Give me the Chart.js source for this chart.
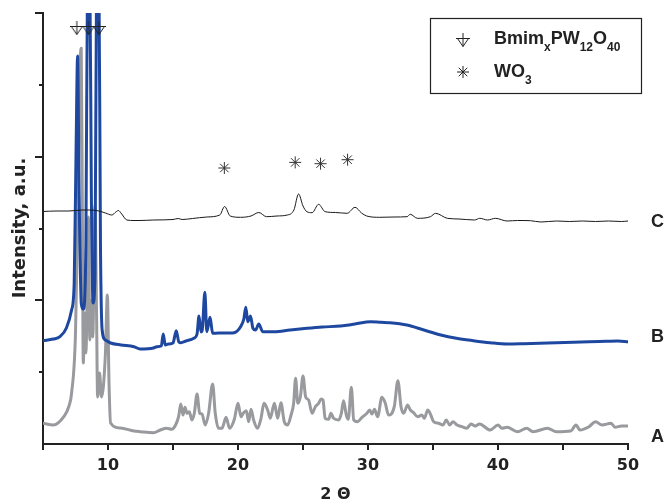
<!DOCTYPE html>
<html>
<head>
<meta charset="utf-8">
<script src="https://cdn.jsdelivr.net/npm/chart.js@4.4.1/dist/chart.umd.min.js"></script>
<style>
html, body { margin: 0; padding: 0; background: #fff; }
</style>
</head>
<body>
<canvas id="charts" width="666" height="504"></canvas>
<script>
// 2 theta positions and intensities (a.u.)

// C - thin black trace
const thetaC = [5.0, 6.0, 7.0, 8.0, 8.6, 9.3, 9.8, 10.3, 10.6, 10.8, 11.0, 11.45, 12.0, 12.46, 13.5, 15.0, 15.4, 15.7, 16.5, 17.6,
  18.6, 18.97, 19.4, 20.2, 21.0, 21.6, 22.2, 23.0, 23.8, 24.3, 24.66, 25.0, 25.3, 25.7, 26.2, 26.7, 27.5, 28.4, 29.0, 29.5,
  29.9, 30.9, 32.0, 33.0, 33.25, 33.8, 34.8, 35.2, 36.1, 37.0, 38.2, 38.6, 39.2, 39.8, 40.7, 41.5, 42.5, 43.3, 44.5, 45.5,
  46.5, 47.5, 48.5, 49.5, 50.0];
const intC = [232.5, 233, 233, 234, 234, 233, 231, 229, 232, 233.5, 231, 224, 223.5, 223.5, 224, 224.5, 225.5, 224.5, 225.5, 227,
  229, 237.5, 228, 226.7, 228, 231.5, 227.3, 228, 229, 234, 250, 238, 232.3, 231.3, 239.7, 232.3, 231.5, 230.7, 236.7, 231,
  228, 226.7, 227, 227.3, 229.7, 225.7, 227.3, 230.7, 225.7, 225, 224, 225.7, 224, 225.7, 223, 223.5, 223.3, 222, 223, 222.5,
  223, 222.5, 223, 222.5, 223];

// B - blue trace
const thetaB = [5.0, 5.8, 6.3, 6.8, 7.2, 7.4, 7.55, 7.66, 7.78, 7.95, 8.1, 8.3, 8.42, 8.6, 8.72, 8.85, 9.0, 9.12, 9.3, 9.42,
  9.55, 9.8, 10.2, 11.0, 12.0, 12.46, 13.5, 13.75, 14.1, 14.25, 14.4, 14.65, 15.0, 15.25, 15.45, 15.6, 16.0, 16.6, 16.85, 17.0,
  17.15, 17.25, 17.45, 17.6, 17.85, 18.05, 18.5, 19.4, 19.7, 20.2, 20.45, 20.6, 20.75, 20.96, 21.15, 21.35, 21.6, 21.9, 22.8, 24.0,
  25.3, 26.5, 27.9, 29.0, 30.2, 31.0, 31.7, 33.0, 34.3, 35.6, 36.8, 38.1, 39.4, 40.7, 42.0, 43.2, 44.5, 45.8, 47.0, 48.3,
  49.2, 50.0];
const intB = [103.3, 105, 107.3, 116, 134, 161, 300, 388, 250, 140, 135, 200, 460, 470, 250, 141, 170, 460, 470, 200,
  114, 104, 101, 99, 97.3, 95, 96, 97.3, 98, 110, 99, 100, 101, 113.3, 102, 101.3, 103, 105.7, 110, 128,
  112, 114, 151.7, 112.3, 126.7, 110.7, 111, 111, 111.3, 117.3, 125, 136.7, 122.3, 128, 115.7, 114, 120, 112.3, 112.3, 114,
  115.7, 117, 118, 120, 122.3, 121.7, 121.3, 119, 114, 109, 105.7, 103.3, 101.3, 100, 100.3, 100.7, 101.3, 101.7, 102.3, 102.7,
  103, 102.3];

// A - grey trace
const thetaA = [5.0, 5.8, 6.6, 7.0, 7.2, 7.5, 7.7, 7.86, 7.94, 8.02, 8.1, 8.2, 8.3, 8.5, 8.6, 8.75, 8.83, 9.0, 9.12, 9.2,
  9.35, 9.5, 9.8, 9.95, 10.08, 10.2, 10.95, 12.0, 12.5, 13.5,
  14.02, 14.5, 14.9, 15.2, 15.43, 15.6, 15.77, 15.92, 16.08, 16.25, 16.46, 16.64, 16.85, 17.05, 17.23, 17.48, 17.74, 18.05, 18.25, 18.5,
  18.77, 19.08, 19.35, 19.72, 20.0, 20.23, 20.43, 20.64, 20.82, 21.0, 21.2, 21.5, 21.77, 22.0, 22.28, 22.48, 22.8, 23.05, 23.3, 23.56,
  23.82, 24.08, 24.28, 24.43, 24.6, 24.8, 25.0, 25.2, 25.43, 25.7, 25.95, 26.2, 26.4, 26.54, 26.7, 26.97, 27.15, 27.35, 27.74, 27.95,
  28.12, 28.33, 28.48, 28.72, 28.9, 29.2, 29.54, 29.92, 30.13, 30.3, 30.5, 30.74, 31.07, 31.33, 31.58, 32.02, 32.3, 32.54, 32.74, 33.05,
  33.26, 33.5, 33.82, 34.15, 34.33, 34.6, 34.8, 35.05, 35.43, 35.77, 36.02, 36.28, 36.54, 36.85, 37.23, 37.6, 37.92, 38.25, 38.58, 39.4,
  40.0, 40.3, 40.7, 41.5, 42.2, 42.7, 43.8, 44.5, 45.6, 46.0, 46.3, 47.0, 47.5, 48.0, 48.7, 49.0, 49.5, 50.0];
const intA = [20.7, 19, 27.3, 38, 51, 111, 250, 380, 395.7, 250, 81, 131, 91, 227, 104, 144, 107, 239, 130, 47,
  71, 47, 90, 149, 60, 21, 16, 13, 12.3, 11.3,
  14, 15.7, 14.7, 19, 27.3, 40, 29, 36.7, 30.7, 32.3, 24, 30.7, 50, 30.7, 30, 19, 30.7, 60, 30.7, 15.7,
  15.7, 26.7, 15.7, 24.7, 40.7, 27.3, 31.3, 33.3, 22.3, 34.7, 24, 15.7, 25.7, 40.7, 34, 25.7, 40.7, 25.7, 41.3, 22.3,
  19, 29, 40.7, 65.7, 40.7, 47.3, 68, 47.3, 44, 30.7, 37.3, 40.7, 45, 44, 25.7, 24.7, 30.7, 25.7, 24, 30.7,
  43.3, 29, 24.7, 56.7, 24, 22.3, 26.7, 30.7, 34, 30, 34.7, 27.3, 46.7, 40.7, 29, 37.3, 63.3, 37.3, 30.7, 39,
  34, 31.3, 27.3, 29, 25.7, 34, 30, 22.3, 20.7, 19, 24, 19, 22.3, 19, 17.3, 15.7, 20, 18, 20, 14,
  19, 15.7, 16.7, 12.3, 15.7, 12.3, 15.7, 12.3, 13, 19, 14, 17.3, 22.3, 19, 20.7, 16.7, 18, 18];

// phase markers
const bmimTheta = [7.6, 8.5, 9.3];
const bmimInt = [416, 416, 416];
const wo3Theta = [18.95, 24.4, 26.35, 28.43];
const wo3Int = [276, 281.6, 280.3, 284.3];

const yMax = 431;
const yTickCount = 6;
const traceLabels = ['A', 'B', 'C'];

function toPoints(xs, ys) {
  return xs.map((x, i) => ({ x: x, y: ys[i] }));
}

// symbol for the Bmim phase: down triangle with a bar and stem
function bmimSymbol() {
  const c = document.createElement('canvas');
  c.width = 14; c.height = 14;
  const g = c.getContext('2d');
  g.strokeStyle = '#222';
  g.lineWidth = 1;
  g.beginPath();
  g.moveTo(0, 5.5); g.lineTo(14, 5.5);
  g.moveTo(7, 0); g.lineTo(7, 13.5);
  g.moveTo(1.5, 5.5); g.lineTo(7, 13.5); g.lineTo(12.5, 5.5);
  g.stroke();
  return c;
}
const bmimImg = bmimSymbol();

const extras = {
  id: 'extras',
  afterDraw(chart) {
    const ctx = chart.ctx;
    const y = chart.scales.y;
    const area = chart.chartArea;
    ctx.save();

    // y ticks: long ones every second step
    ctx.strokeStyle = '#222';
    ctx.lineWidth = 2;
    for (let i = 1; i <= yTickCount; i++) {
      const py = Math.round(y.getPixelForValue(yMax * i / yTickCount));
      const len = i % 2 === 0 ? 8 : 4;
      ctx.beginPath();
      ctx.moveTo(area.left, py);
      ctx.lineTo(area.left - len, py);
      ctx.stroke();
    }

    // y title
    ctx.fillStyle = '#222';
    ctx.font = 'bold 18px "DejaVu Sans"';
    ctx.textAlign = 'center';
    ctx.textBaseline = 'middle';
    ctx.translate(20, 228);
    ctx.rotate(-Math.PI / 2);
    ctx.fillText('Intensity, a.u.', 0, 0);
    ctx.setTransform(1, 0, 0, 1, 0, 0);

    // trace labels at the level of each trace end
    ctx.font = 'bold 18px "Liberation Sans"';
    ctx.textAlign = 'left';
    const ends = [intA[intA.length - 1], intB[intB.length - 1], intC[intC.length - 1]];
    const shift = [11, -5, 1];
    traceLabels.forEach((t, i) => {
      ctx.fillText(t, area.right + 23, y.getPixelForValue(ends[i]) + shift[i]);
    });

    // legend box
    ctx.strokeStyle = '#222';
    ctx.lineWidth = 1.2;
    ctx.strokeRect(430.5, 18.5, 211, 75);
    ctx.drawImage(bmimImg, 456, 33);
    ctx.beginPath();
    const sx = 463, sy = 72, r = 6;
    ctx.lineWidth = 1;
    ctx.moveTo(sx - r, sy); ctx.lineTo(sx + r, sy);
    ctx.moveTo(sx, sy - r); ctx.lineTo(sx, sy + r);
    const d = r * Math.SQRT1_2;
    ctx.moveTo(sx - d, sy - d); ctx.lineTo(sx + d, sy + d);
    ctx.moveTo(sx - d, sy + d); ctx.lineTo(sx + d, sy - d);
    ctx.stroke();

    ctx.textBaseline = 'alphabetic';
    const big = 'bold 18px "Liberation Sans"';
    const small = 'bold 12px "Liberation Sans"';
    function rich(parts, x0, base) {
      let x = x0;
      parts.forEach(p => {
        ctx.font = p[1] ? small : big;
        ctx.fillText(p[0], x, base + (p[1] ? 7 : 0));
        x += ctx.measureText(p[0]).width;
      });
    }
    rich([['Bmim', 0], ['x', 1], ['PW', 0], ['12', 1], ['O', 0], ['40', 1]], 494, 44);
    rich([['WO', 0], ['3', 1]], 494, 77);
    ctx.restore();
  }
};

const traceStyle = {
  pointRadius: 0,
  cubicInterpolationMode: 'monotone',
  borderJoinStyle: 'round',
  borderCapStyle: 'round'
};

new Chart(document.getElementById('charts'), {
  type: 'line',
  data: {
    datasets: [
      Object.assign({ label: 'C', data: toPoints(thetaC, intC), borderColor: '#1a1a1a', borderWidth: 1, order: 2 }, traceStyle),
      Object.assign({ label: 'B', data: toPoints(thetaB, intB), borderColor: '#1e48a0', borderWidth: 3, order: 3 }, traceStyle),
      Object.assign({ label: 'A', data: toPoints(thetaA, intA), borderColor: '#999a9e', borderWidth: 3, order: 4 }, traceStyle),
      {
        label: 'Bmim', data: toPoints(bmimTheta, bmimInt), showLine: false,
        pointStyle: bmimImg, pointRadius: 7, order: 0
      },
      {
        label: 'WO3', data: toPoints(wo3Theta, wo3Int), showLine: false,
        pointStyle: 'star', pointRadius: 6, pointBorderColor: '#333', pointBorderWidth: 1,
        pointBackgroundColor: '#333', order: 1
      }
    ]
  },
  options: {
    responsive: false,
    animation: false,
    layout: { padding: { top: 13, right: 38, left: 0, bottom: 0 } },
    plugins: {
      legend: { display: false },
      tooltip: { enabled: false }
    },
    scales: {
      x: {
        type: 'linear',
        min: 5,
        max: 50,
        afterFit: (s) => { s.height = 60; },
        border: { display: true, color: '#222', width: 2 },
        grid: { drawOnChartArea: false, drawTicks: true, tickLength: 6, color: '#222', lineWidth: 2 },
        ticks: {
          stepSize: 5,
          autoSkip: false,
          maxRotation: 0,
          padding: 6,
          color: '#222',
          font: { family: '"DejaVu Sans"', size: 16, weight: 'bold' },
          callback: (v) => (v % 10 === 0 ? String(v) : '')
        },
        title: {
          display: true,
          text: '2 \u0398',
          color: '#222',
          font: { family: '"DejaVu Sans"', size: 16, weight: 'bold' },
          padding: { top: 2, bottom: 0 }
        }
      },
      y: {
        min: 0,
        max: yMax,
        afterFit: (s) => { s.width = 43; },
        border: { display: true, color: '#222', width: 2 },
        grid: { display: false },
        ticks: { display: false }
      }
    }
  },
  plugins: [extras]
});
</script>
</body>
</html>
